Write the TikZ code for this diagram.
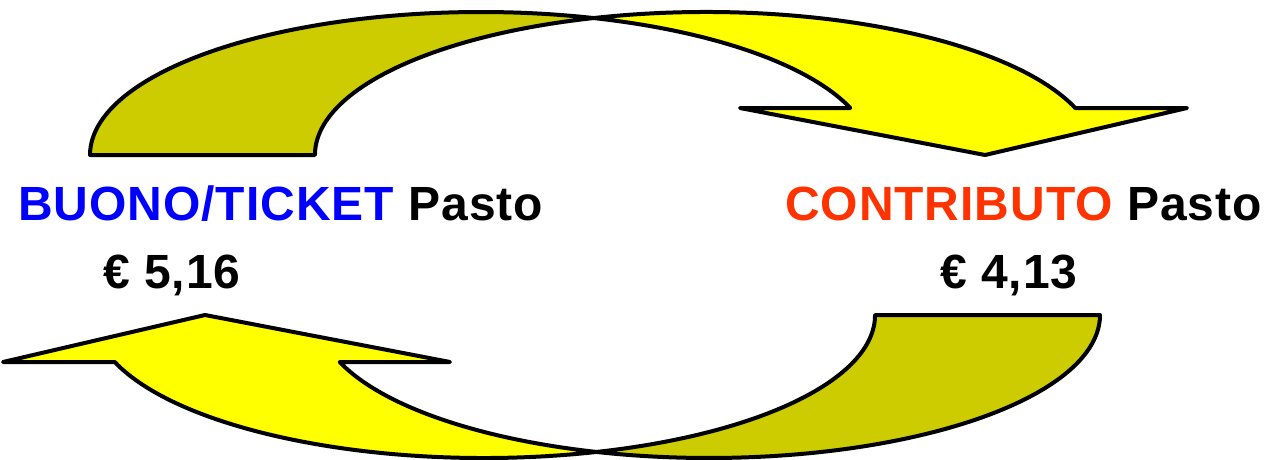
\documentclass[tikz,border=0pt]{standalone}
\usepackage{fontspec}
\setmainfont{Liberation Sans}[LetterSpace=2]
\definecolor{yel}{RGB}{255,255,0}
\definecolor{darkyel}{RGB}{204,204,0}
\definecolor{tblue}{RGB}{0,0,255}
\definecolor{tred}{RGB}{255,51,0}
\tikzset{
  ribbon/.style={draw=black, line width=4pt, line join=round},
  front/.style={ribbon, fill=yel},
  back/.style={ribbon, fill=darkyel},
  lbl/.style={inner sep=0pt, anchor=base west, font=\fontsize{48}{56}\selectfont\bfseries}
}
\newcommand{\curvedribbon}{%
  \coordinate (X) at ({481+391*cos(73.28)}, {304+143*sin(73.28)});
  \draw[back] (X) arc[start angle=106.72, end angle=180, x radius=391, y radius=143]
     -- (90,304) arc[start angle=180, end angle=73.28, x radius=391, y radius=143] -- cycle;
  \draw[front] (X) arc[start angle=73.28, end angle=19.19, x radius=391, y radius=143]
     -- (740,351) -- (985,304) -- (1187,351) -- (1075.3,351)
     arc[start angle=19.19, end angle=106.72, x radius=391, y radius=143] -- cycle;
}
\begin{document}
\begin{tikzpicture}[x=1pt,y=1pt]
\useasboundingbox (0,0) rectangle (1265,459);
% top arrow
\begin{scope}
  \curvedribbon
\end{scope}
% bottom arrow (same shape turned half round)
\begin{scope}[rotate around={180:(595,224)}]
  \curvedribbon
\end{scope}
\node[lbl] (l1) at (18,239) {\textcolor{tblue}{BUONO/TICKET} Pasto};
\node[lbl] (l2) at (103,171) {€ 5,16};
\node[lbl] (r1) at (785,239) {\textcolor{tred}{CONTRIBUTO} Pasto};
\node[lbl] (r2) at (940,171) {€ 4,13};
\end{tikzpicture}
\end{document}
